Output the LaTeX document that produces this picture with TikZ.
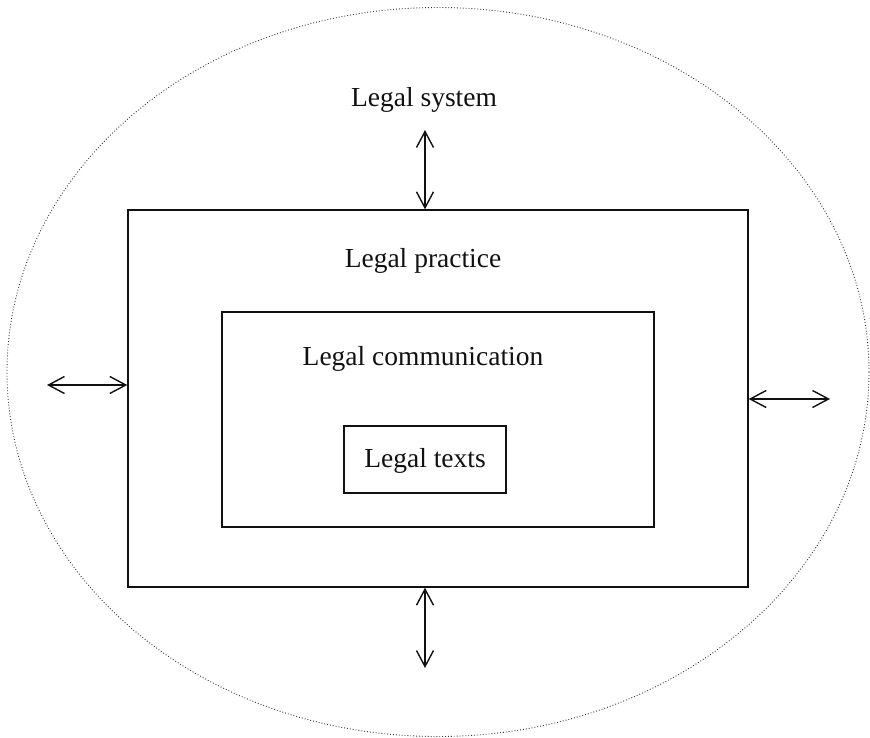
\documentclass[tikz,border=0pt]{standalone}
\usepackage{fontspec}
\setmainfont{Liberation Serif}
\usepackage{tikz}
\usetikzlibrary{arrows.meta,positioning,shapes.geometric}
\usepackage{xcolor}
\definecolor{ink}{HTML}{111111}
\definecolor{muted}{HTML}{333333}
\tikzset{
  layerbox/.style={draw=ink,line width=1.4pt,inner sep=0pt},
  layerlabel/.style={font=\fontsize{27.5}{30}\selectfont,text=ink,inner sep=0pt},
  outerring/.style={ellipse,draw=muted,dotted,line width=0.9pt,inner sep=0pt},
  exchange/.style={{Straight Barb[length=16pt,width=17pt]}-{Straight Barb[length=16pt,width=17pt]},
                   line width=1.4pt,draw=ink}
}
\begin{document}
\begin{tikzpicture}[x=1pt,y=-1pt]
  \useasboundingbox (0,0) rectangle (870,737);

  \node[outerring,minimum width=862pt,minimum height=729pt] (sys) at (438,372) {};
  \node[layerlabel] (syslabel) at (424,100) {Legal system};

  \node[layerbox,minimum width=620pt,minimum height=377pt] (prac) at (438,398.5) {};
  \node[layerlabel] (praclabel) at (423,261) {Legal practice};

  \node[layerbox,minimum width=432pt,minimum height=215pt] (comm) at (438,419.5) {};
  \node[layerlabel] (commlabel) at (423,359) {Legal communication};

  \node[layerbox,minimum width=162pt,minimum height=67pt] (texts) at (425,459.5) {};
  \node[layerlabel] (textslabel) at (425,461) {Legal texts};

  % exchange with the surrounding system
  \coordinate (topend) at (425,130);
  \coordinate (bottomend) at (425,668);
  \coordinate (leftend) at (47,385);
  \coordinate (rightend) at (830,399);
  \draw[exchange] (topend) -- (topend |- prac.north);
  \draw[exchange] (prac.south -| bottomend) -- (bottomend);
  \draw[exchange] (leftend) -- (leftend -| prac.west);
  \draw[exchange] (rightend -| prac.east) -- (rightend);
\end{tikzpicture}
\end{document}
